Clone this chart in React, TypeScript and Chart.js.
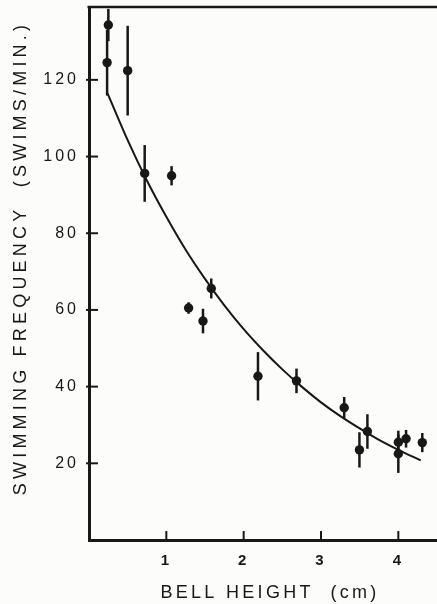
import { useEffect, useRef } from "react";
import { Chart, registerables } from "chart.js";

Chart.register(...registerables);

// Observations: bell height (cm), swimming frequency (swims/min) and error half-range
const bellHeight = [0.25, 0.234, 0.5, 0.72, 1.068, 1.288, 1.474, 1.581, 2.185, 2.683, 3.3, 3.497, 3.6, 4.0, 4.0, 4.1, 4.31];
const swimFreq = [134.3, 124.5, 122.4, 95.6, 95.0, 60.5, 57.1, 65.6, 42.7, 41.5, 34.5, 23.5, 28.3, 25.5, 22.5, 26.4, 25.4];
const swimErr = [4.2, 8.6, 11.7, 7.4, 2.5, 1.5, 3.2, 2.6, 6.3, 3.2, 2.8, 4.6, 4.5, 3.0, 5.0, 2.3, 2.5];

// Fitted curve
const fitX = [0.24, 0.5, 0.75, 1.0, 1.25, 1.5, 1.75, 2.0, 2.25, 2.5, 2.75, 3.0, 3.25, 3.5, 3.75, 4.0, 4.29];
const fitY = [116.5, 104.3, 93.7, 84.3, 75.7, 68.1, 61.2, 55.0, 49.5, 44.5, 40.0, 35.9, 32.3, 29.1, 26.1, 23.5, 20.75];

const xTicks = [1, 2, 3, 4];
const yTicks = [20, 40, 60, 80, 100, 120];
const xTitle = "BELL HEIGHT  (cm)";
const yTitle = "SWIMMING FREQUENCY  (SWIMS/MIN.)";

const INK = "#181818";
const BG = "#fcfcfa";
const FONT = '"Liberation Sans", Arial, sans-serif';

const figurePlugin = {
  id: "figure",
  beforeDraw(chart: any) {
    const ctx = chart.ctx;
    ctx.save();
    ctx.fillStyle = BG;
    ctx.fillRect(0, 0, chart.width, chart.height);
    ctx.restore();
    ctx.letterSpacing = "3px";
  },
  beforeDatasetsDraw(chart: any) {
    const ctx = chart.ctx;
    const xs = chart.scales.x;
    const ys = chart.scales.y;
    ctx.save();
    ctx.strokeStyle = INK;
    ctx.lineWidth = 2.5;
    ctx.lineCap = "butt";
    for (let i = 0; i < bellHeight.length; i++) {
      const px = xs.getPixelForValue(bellHeight[i]);
      const y1 = ys.getPixelForValue(swimFreq[i] + swimErr[i]);
      const y2 = ys.getPixelForValue(swimFreq[i] - swimErr[i]);
      ctx.beginPath();
      ctx.moveTo(px, y1);
      ctx.lineTo(px, y2);
      ctx.stroke();
    }
    ctx.restore();
  },
  afterDraw(chart: any) {
    const ctx = chart.ctx;
    const xs = chart.scales.x;
    const ys = chart.scales.y;
    const area = chart.chartArea;
    ctx.save();
    ctx.strokeStyle = INK;
    // top frame line
    ctx.lineWidth = 2.5;
    ctx.beginPath();
    ctx.moveTo(area.left - 1.5, area.top);
    ctx.lineTo(area.right, area.top);
    ctx.stroke();
    // inward tick marks
    ctx.lineWidth = 2;
    for (const v of xTicks) {
      const px = xs.getPixelForValue(v);
      ctx.beginPath();
      ctx.moveTo(px, area.bottom);
      ctx.lineTo(px, area.bottom - 9);
      ctx.stroke();
    }
    for (const v of yTicks) {
      const py = ys.getPixelForValue(v);
      ctx.beginPath();
      ctx.moveTo(area.left - 3, py);
      ctx.lineTo(area.left + 9, py);
      ctx.stroke();
    }
    // axis titles
    ctx.fillStyle = INK;
    ctx.font = `18px ${FONT}`;
    ctx.letterSpacing = "3.3px";
    ctx.textAlign = "center";
    ctx.textBaseline = "middle";
    ctx.fillText(xTitle, 270, 593);
    ctx.translate(21, 258);
    ctx.rotate(-Math.PI / 2);
    ctx.letterSpacing = "4.2px";
    ctx.fillText(yTitle, 0, 0);
    ctx.restore();
    ctx.letterSpacing = "0px";
  },
};

export default function App() {
  const canvasRef = useRef<HTMLCanvasElement | null>(null);

  useEffect(() => {
    const canvas = canvasRef.current;
    if (!canvas) return;
    const chart = new Chart(canvas, {
      type: "scatter",
      data: {
        datasets: [
          {
            type: "line",
            label: "fit",
            data: fitX.map((x, i) => ({ x, y: fitY[i] })),
            borderColor: INK,
            borderWidth: 2,
            pointRadius: 0,
            cubicInterpolationMode: "monotone",
            fill: false,
          } as any,
          {
            label: "observed",
            data: bellHeight.map((x, i) => ({ x, y: swimFreq[i] })),
            backgroundColor: INK,
            borderColor: INK,
            borderWidth: 0,
            pointRadius: 4.7,
            pointHoverRadius: 4.7,
          },
        ],
      },
      options: {
        responsive: false,
        animation: false,
        events: [],
        layout: { autoPadding: false, padding: { top: 7, left: 0, right: 0, bottom: 0 } },
        plugins: {
          legend: { display: false },
          tooltip: { enabled: false },
          title: { display: false },
        },
        scales: {
          x: {
            type: "linear",
            min: 0,
            max: 4.5,
            afterFit(scale: any) {
              scale.height = 64;
              scale.paddingLeft = 0;
              scale.paddingRight = 0;
              scale.paddingTop = 0;
              scale.paddingBottom = 0;
            },
            afterBuildTicks(scale: any) {
              scale.ticks = xTicks.map((v) => ({ value: v }));
            },
            grid: { display: true, drawOnChartArea: false, drawTicks: false },
            border: { display: true, color: INK, width: 3 },
            ticks: {
              color: INK,
              padding: 12,
              font: { family: FONT, size: 15, weight: "bold" },
              callback: (v: any) => String(v),
            },
          },
          y: {
            type: "linear",
            min: 0,
            max: 139,
            afterFit(scale: any) {
              scale.width = 89;
              scale.paddingLeft = 0;
              scale.paddingRight = 0;
              scale.paddingTop = 0;
              scale.paddingBottom = 0;
            },
            afterBuildTicks(scale: any) {
              scale.ticks = yTicks.map((v) => ({ value: v }));
            },
            grid: { display: true, drawOnChartArea: false, drawTicks: false },
            border: { display: true, color: INK, width: 3 },
            ticks: {
              color: INK,
              padding: 10,
              font: { family: FONT, size: 16 },
              callback: (v: any) => String(v),
            },
          },
        },
      },
      plugins: [figurePlugin],
    });
    return () => chart.destroy();
  }, []);

  return (
    <div style={{ position: "fixed", left: 0, top: 0, width: 437, height: 604, background: BG }}>
      <canvas ref={canvasRef} width={437} height={604} style={{ display: "block" }} />
    </div>
  );
}
